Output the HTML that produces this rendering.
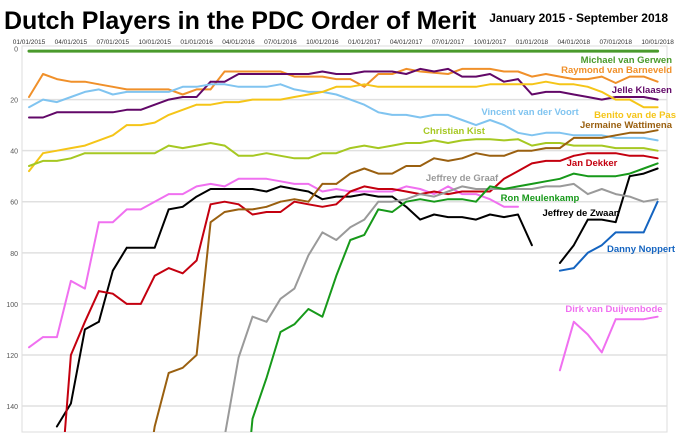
<!DOCTYPE html>
<html><head><meta charset="utf-8">
<style>
html,body{margin:0;padding:0;background:#fff;overflow:hidden;width:680px;height:445px;}
svg{display:block;font-family:"Liberation Sans",Arial,sans-serif;}
</style></head>
<body>
<svg id="chart" width="680" height="445" viewBox="0 0 680 445">
<text x="4" y="29" font-size="25" font-weight="bold" fill="#000">Dutch Players in the PDC Order of Merit</text>
<text x="668" y="22" font-size="12" font-weight="bold" fill="#000" text-anchor="end">January 2015 - September 2018</text>
<defs><clipPath id="plotclip"><rect x="22" y="46" width="645" height="386"/></clipPath></defs>
<g id="grid"></g>
<g id="series" clip-path="url(#plotclip)"></g>
<g id="labels"></g>
</svg>
<script>
const xTickLabels = ["01/01/2015","04/01/2015","07/01/2015","10/01/2015","01/01/2016","04/01/2016","07/01/2016","10/01/2016","01/01/2017","04/01/2017","07/01/2017","10/01/2017","01/01/2018","04/01/2018","07/01/2018","10/01/2018"];
const yTicks = [0,20,40,60,80,100,120,140];
const _ = null;
const mvg = Array(46).fill(1);
const rvb = [19,10,12,13,13,14,15,16,16,16,16,18,16,16,9,9,9,9,9,11,11,11,12,12,15,10,10,8,9,9.5,10,8,8,8,9,9,11,10,11,12,12,11,13.5,11,11,13];
const jelle = [27,27,25,25,25,25,25,24,24,22,20,19,19,13,13,10,10,10,10,10,10,9,10,10,9,9,9,10,8,9,8,11,11,10,13,12,18,17,17,18,19,20,19,19,19,20];
const vincent = [23,20,21,19,17,16,18,17,17,17,17,15,15,14,14,15,15,15,14,16,17,17,18,20,22,25,26,26,27,26,26,28,30,28,30,33,34,33,33,34,34,34,35,35,35,36];
const benito = [48,41,40,39,38,36,34,30,30,29,26,24,22,22,21,21,20,20,20,19,18,17,15,15,14,15,15,15,15,15,15,15,15,14,14,14,14,13,14,14,15,17,20,20,23,23];
const kist = [46,44,44,43,41,41,41,41,41,41,38,39,38,37,38,42,42,41,42,43,43,41,41,39,38,39,38,37,37,36,37,36,35.5,35.5,36,35.5,38,37,37,38,38,38,39,39,39,40];
const dirk = [117,113,113,91,94,68,68,63,63,60,57,57,54,53,54,51,51,51,52,53,53,56,55,56,56,56,56,54,55,57,54,57,57,59,62,62,_,_,126,107,112,119,106,106,106,105];
const zwaan = [_,_,148,139,110,107,87,78,78,78,63,62,58,55,55,55,55,56,54,55,56,59,58,58,57,58,58,62,67,65,66,66,67,65,66,65,77,_,84,77,67,67,68,50,49,47];
const dekker = [_,_,190,120,107,95,96,100,100,89,86,88,83,61,60,61,65,64,64,60,61,62,61,56,54,55,55,56,57,56,57,56,56,56,51,48,45,44,44,42,41,41,41,42,42,43];
const wattimena = [_,_,_,_,_,_,_,_,180,148,127,125,120,68,64,63,63,62,60,59,60,53,53,49,47,49,49,46,46,43,44,43,41,42,42,40,40,39,39,35,35,35,34,33,33,32];
const degraaf = [_,_,_,_,_,_,_,_,_,_,_,_,_,180,152,121,105,107,98,94,81,72,75,70,67,60,60,59,57,58,56,54,55,55,55,55,55,54,54,53,57,55,57,58,60,59];
const ron = [_,_,_,_,_,_,_,_,_,_,_,_,_,_,_,200,145,129,111,108,102,105,89,75,73,63,64,60,59,60,59,59,60,54,55,54,53,52,51,49,50,50,50,49,47,45];
const noppert = [_,_,_,_,_,_,_,_,_,_,_,_,_,_,_,_,_,_,_,_,_,_,_,_,_,_,_,_,_,_,_,_,_,_,_,_,_,_,87,86,80,77,72,72,72,60];

const NS="http://www.w3.org/2000/svg";
const X0=29, DX=13.97, Y0=48.5, DY=2.554, RMAX=150;
const xScale = i => X0 + DX*i;
const yScale = r => Y0 + DY*r;
function mk(tag, attrs, parent){const e=document.createElementNS(NS,tag);for(const k in attrs)e.setAttribute(k,attrs[k]);parent.appendChild(e);return e;}
const grid=document.getElementById('grid');
const frame=mk('rect',{x:22,y:46,width:645,height:386,fill:'none',stroke:'#ddd','stroke-width':1},grid);


yTicks.forEach(t=>{
  const y=yScale(t);
  if(t>0){const l=mk('line',{x1:22,x2:667,y1:y,y2:y,stroke:'#e0e0e0','stroke-width':1.5},grid);
    
    }
  const tx=mk('text',{x:18,y:y+3,'font-size':7,fill:'#555','text-anchor':'end'},grid);
  tx.textContent=t;
  
  
});
xTickLabels.forEach((s,k)=>{
  const tx=mk('text',{x:xScale(k*3),y:44,'font-size':6.5,fill:'#333','text-anchor':'middle'},grid);
  tx.textContent=s;
  
  
});
const seriesList=[
 ['michael-van-gerwen',mvg,'#4a9a2c'],['raymond-van-barneveld',rvb,'#f0902a'],['jelle-klaasen',jelle,'#620868'],
 ['vincent-van-der-voort',vincent,'#80c4f0'],['benito-van-de-pas',benito,'#f5c518'],['christian-kist',kist,'#a6c822'],
 ['dirk-van-duijvenbode',dirk,'#f070f0'],['jeffrey-de-zwaan',zwaan,'#000000'],['jan-dekker',dekker,'#c4000f'],
 ['jermaine-wattimena',wattimena,'#9a6010'],['jeffrey-de-graaf',degraaf,'#9a9a9a'],['ron-meulenkamp',ron,'#17991a'],
 ['danny-noppert',noppert,'#1464c0']];
const sg=document.getElementById('series');
function pt(x,r){return x.toFixed(1)+' '+yScale(r).toFixed(1);}
seriesList.forEach(([name,data,color])=>{
  let d='';
  for(let i=0;i<data.length-1;i++){
    const a=data[i], b=data[i+1];
    if(a===null||b===null) continue;
    if(a>RMAX&&b>RMAX) continue;
    let xa=xScale(i), xb=xScale(i+1), ra=a, rb=b;
    if(a>RMAX){const t=(a-RMAX)/(a-b); xa=xa+(xb-xa)*t; ra=RMAX;}
    if(b>RMAX){const t=(RMAX-a)/(b-a); xb=xa+(xb-xa)*t; rb=RMAX;}
    d+='M'+pt(xa,ra)+'L'+pt(xb,rb);
  }
  const p=mk('path',{d:d,fill:'none',stroke:color,'stroke-width':name==='michael-van-gerwen'?3:2,'stroke-linejoin':'round','stroke-linecap':'round'},sg);
  
  
});
const labels=[
 ['Michael van Gerwen',672,63,'end','#4a9a2c'],['Raymond van Barneveld',672,73,'end','#f0902a'],
 ['Jelle Klaasen',672,93,'end','#620868'],['Vincent van der Voort',530,115,'middle','#80c4f0'],
 ['Benito van de Pas',676,118,'end','#f5c518'],['Jermaine Wattimena',672,128,'end','#9a6010'],
 ['Christian Kist',454,134,'middle','#a6c822'],['Jan Dekker',592,166,'middle','#c4000f'],
 ['Jeffrey de Graaf',462,181,'middle','#9a9a9a'],['Ron Meulenkamp',540,201,'middle','#17991a'],
 ['Jeffrey de Zwaan',581,216,'middle','#000000'],['Danny Noppert',641,252,'middle','#1464c0'],
 ['Dirk van Duijvenbode',614,312,'middle','#f070f0']];
const lg=document.getElementById('labels');
labels.forEach(([t,x,y,a,c])=>{
  const e=mk('text',{x:x,y:y,'font-size':9.5,'font-weight':'bold',fill:c,'text-anchor':a},lg);
  e.textContent=t;
  
  
});
</script>
</body></html>
